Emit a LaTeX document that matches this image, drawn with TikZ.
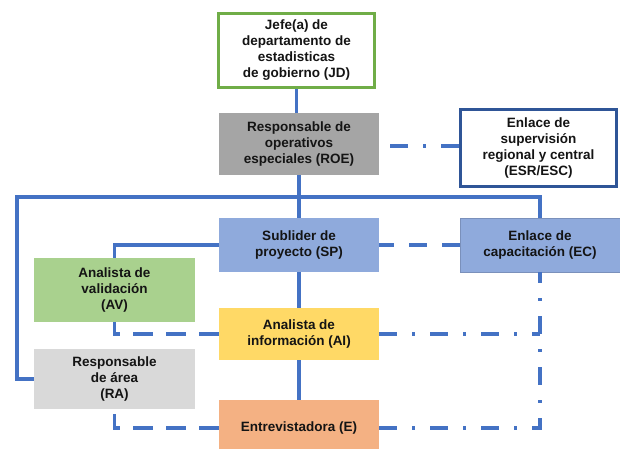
\documentclass[tikz,border=0pt]{standalone}
\usepackage{fontspec}
\setmainfont{Liberation Sans}
\usetikzlibrary{calc}
\definecolor{linea}{HTML}{4472C4}
\definecolor{verdejd}{HTML}{70AD47}
\definecolor{azulesr}{HTML}{2F5597}
\definecolor{grisroe}{HTML}{A5A5A5}
\definecolor{azulsp}{HTML}{8FAADC}
\definecolor{verdeav}{HTML}{A9D18E}
\definecolor{amarilloai}{HTML}{FFD966}
\definecolor{grisra}{HTML}{D9D9D9}
\definecolor{naranjae}{HTML}{F4B183}
\begin{document}
\begin{tikzpicture}[x=1pt,y=-1pt,
    caja/.style={rectangle,inner sep=0pt,align=center,text=black!92,
      font=\fontsize{13.5}{16}\selectfont\bfseries},
    conector/.style={draw=linea,line width=3.5pt},
    guion/.style={conector,dash pattern=on 19pt off 14pt},
    guionpunto/.style={conector,dash pattern=on 18pt off 15pt on 3pt off 15pt}]
\useasboundingbox (0,0) rectangle (620,448);
\node[caja,draw=verdejd,line width=3pt,fill=white,minimum width=156pt,minimum height=74pt] (jd) at (296.5,50.5) {Jefe(a) de\\departamento de\\estadisticas\\de gobierno (JD)};
\node[caja,fill=grisroe,minimum width=160pt,minimum height=62pt] (roe) at (299,144) {Responsable de\\operativos\\especiales (ROE)};
\node[caja,draw=azulesr,line width=3pt,fill=white,minimum width=156pt,minimum height=77pt] (esr) at (538.5,148) {Enlace de\\supervisión\\regional y central\\(ESR/ESC)};
\node[caja,fill=azulsp,minimum width=160pt,minimum height=54pt] (sp) at (299,245) {Sublider de\\proyecto (SP)};
\node[caja,fill=azulsp,draw=azulsp!85!black,line width=0.6pt,minimum width=160pt,minimum height=54pt] (ec) at (540,245) {Enlace de\\capacitación (EC)};
\node[caja,fill=verdeav,minimum width=161pt,minimum height=64pt] (av) at (114.5,290) {Analista de\\validación\\(AV)};
\node[caja,fill=amarilloai,minimum width=160pt,minimum height=52pt] (ai) at (299,334) {Analista de\\información (AI)};
\node[caja,fill=grisra,minimum width=161pt,minimum height=60pt] (ra) at (114.5,379) {Responsable\\de área\\(RA)};
\node[caja,fill=naranjae,minimum width=160pt,minimum height=56pt] (e) at (299,428) {Entrevistadora (E)};
\coordinate (esq) at (17,197);
\draw[conector] (jd.south) -- (jd.south |- roe.north);
\draw[conector] (roe.south) -- (sp.north);
\draw[conector] (sp.south) -- (ai.north);
\draw[conector] (ai.south) -- (e.north);
\draw[conector] (ra.west) -| (esq) -| (ec.north);
\draw[conector] (sp.west) -| (av.north);
\draw[guionpunto] ([yshift=2pt]esr.west) -- ([yshift=2pt]esr.west -| roe.east);
\draw[guion,dash pattern=on 18pt off 15pt] (ec.west) -- (sp.east);
\draw[guion,dash pattern=on 19.5pt off 13.5pt] (ai.west) -| (av.south);
\draw[guion,dash pattern=on 19.5pt off 13.5pt] (e.west) -| (ra.south);
\draw[guionpunto] (ai.east) -- (ai.east -| ec.south);
\draw[guionpunto] (e.east) -| (ec.south);
\end{tikzpicture}
\end{document}
